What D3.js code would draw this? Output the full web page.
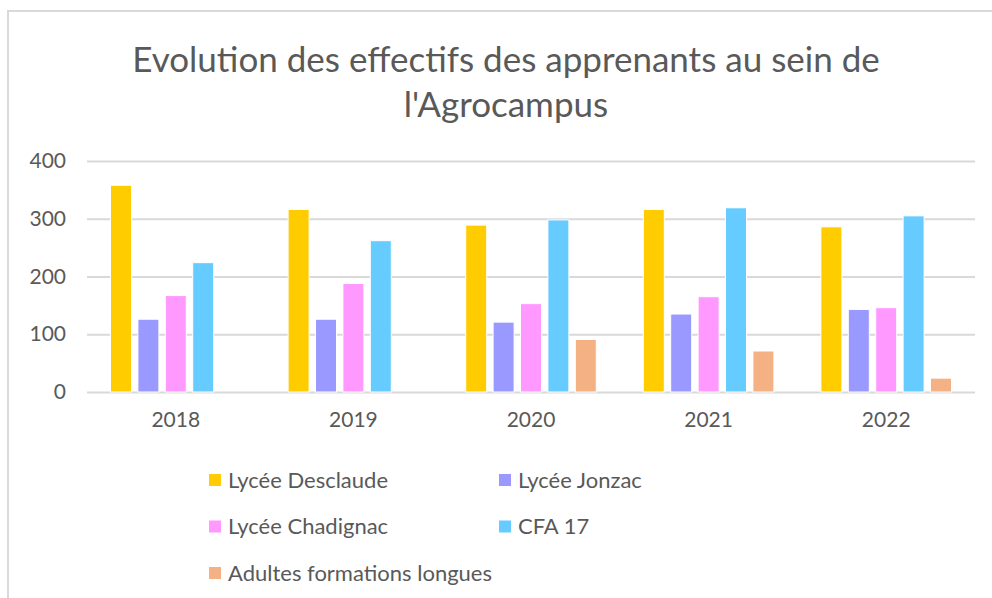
<!DOCTYPE html>
<html><head><meta charset="utf-8">
<script src="https://cdn.jsdelivr.net/npm/d3@7"></script>
<style>html,body{margin:0;padding:0;background:#fff;}svg{display:block;}</style>
</head><body>
<svg id="c" width="992" height="598"></svg>
<script>
const years = ["2018","2019","2020","2021","2022"];
const seriesNames = ["Lycée Desclaude","Lycée Jonzac","Lycée Chadignac","CFA 17","Adultes formations longues"];
const desclaude = [358, 316, 289, 316, 286];
const jonzac = [126, 126, 121, 135, 143];
const chadignac = [167, 188, 153, 165, 146];
const cfa17 = [224, 262, 298, 319, 305];
const adultes = [null, null, 91, 71, 24];
const yTicks = [0, 100, 200, 300, 400];
const colors = ["#FFCC00","#9999FF","#FF99FF","#66CCFF","#F4B183"];
const titleLines = ["Evolution des effectifs des apprenants au sein de","l'Agrocampus"];

const seriesValues = [desclaude, jonzac, chadignac, cfa17, adultes];
const svg = d3.select("#c");
const font = "Lato, 'Open Sans', sans-serif";
const txt = "#595959";

// frame
svg.append("rect").attr("x",8).attr("y",11).attr("width",1000).attr("height",600)
  .attr("fill","none").attr("stroke","#d9d9d9").attr("stroke-width",2);

// title
svg.append("g").selectAll("text").data(titleLines).join("text")
  .attr("x",506).attr("y",(d,i)=>72+i*45).attr("text-anchor","middle")
  .attr("font-family",font).attr("font-size",35).attr("fill",txt).text(d=>d);

const x0 = d3.scaleBand().domain(years).range([87,975]).paddingInner(0).paddingOuter(0);
const x1 = d3.scaleBand().domain(seriesNames).range([20.3, x0.bandwidth()-20.3]).paddingInner(0.234).paddingOuter(0.117);
const y = d3.scaleLinear().domain([0,400]).range([392,161]);

// grid
const yAxis = d3.axisLeft(y).tickValues(yTicks).tickSize(-(975-87)).tickPadding(21);
const gy = svg.append("g").attr("transform","translate(87,0)").call(yAxis);
gy.select(".domain").remove();
gy.selectAll(".tick line").attr("stroke","#d9d9d9").attr("stroke-width",2);
gy.selectAll(".tick text").attr("font-family",font).attr("font-size",21).attr("fill",txt);

// bars
const groups = svg.append("g").selectAll("g").data(years).join("g")
  .attr("transform",d=>`translate(${x0(d)},0)`);
groups.selectAll("rect").data((yr,i)=>seriesNames.map((s,k)=>({s,k,v:seriesValues[k][i]})).filter(d=>d.v!=null))
  .join("rect")
  .attr("x",d=>x1(d.s)).attr("width",x1.bandwidth())
  .attr("y",d=>y(d.v)).attr("height",d=>y(0)-y(d.v))
  .attr("fill",d=>colors[d.k]).attr("stroke","#fff").attr("stroke-width",1);

// x axis
const xAxis = d3.axisBottom(x0).tickSize(0).tickPadding(20);
const gx = svg.append("g").attr("transform","translate(0,392)").call(xAxis);
gx.select(".domain").remove();
gx.selectAll(".tick text").attr("font-family",font).attr("font-size",21).attr("fill",txt);

// legend
const leg = svg.append("g").selectAll("g").data(seriesNames).join("g")
  .attr("transform",(d,i)=>`translate(${i%2===0?209:499},${480+Math.floor(i/2)*46.5})`);
leg.append("rect").attr("x",0).attr("y",-6).attr("width",12).attr("height",12).attr("fill",(d,i)=>colors[i]);
leg.append("text").attr("x",19).attr("y",0).attr("dy","0.35em")
  .attr("font-family",font).attr("font-size",22).attr("fill",txt).text(d=>d);
</script>
</body></html>
